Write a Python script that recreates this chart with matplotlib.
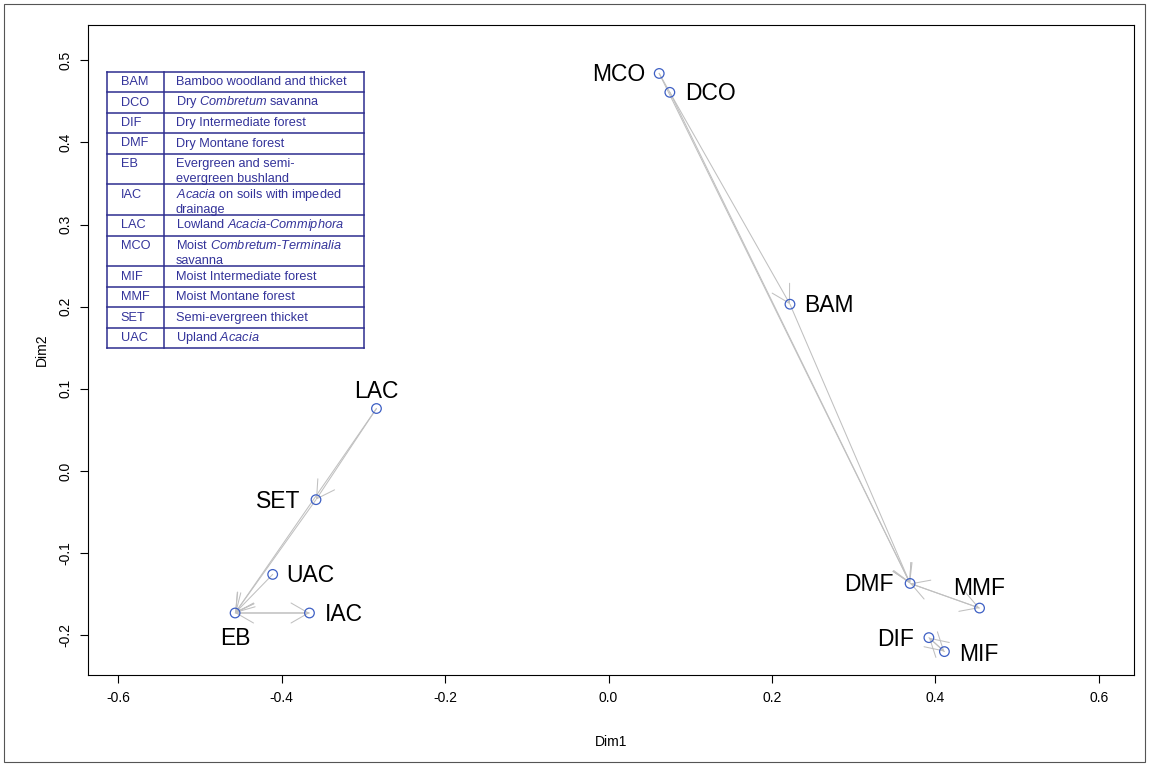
import matplotlib
matplotlib.use("Agg")
import matplotlib.pyplot as plt
from matplotlib.patches import Rectangle

plt.rcParams['font.family'] = ['Liberation Sans', 'DejaVu Sans']
plt.rcParams['mathtext.fontset'] = 'custom'
plt.rcParams['mathtext.rm'] = 'Liberation Sans'
plt.rcParams['mathtext.it'] = 'Liberation Sans:italic'
plt.rcParams['axes.unicode_minus'] = False

# ordination scores of the vegetation types
codes = ['BAM', 'DCO', 'DIF', 'DMF', 'EB', 'IAC', 'LAC', 'MCO', 'MIF', 'MMF', 'SET', 'UAC']
dim1 = [0.222, 0.075, 0.392, 0.369, -0.457, -0.366, -0.284, 0.062, 0.411, 0.454, -0.358, -0.411]
dim2 = [0.203, 0.461, -0.203, -0.137, -0.173, -0.173, 0.076, 0.484, -0.220, -0.167, -0.035, -0.126]

# nearest-neighbour arrows (from, to)
arrows = [('LAC', 'SET'), ('LAC', 'EB'), ('SET', 'EB'), ('UAC', 'EB'), ('IAC', 'EB'),
          ('EB', 'IAC'), ('DCO', 'BAM'), ('MCO', 'DMF'), ('DCO', 'DMF'), ('BAM', 'DMF'),
          ('MMF', 'DMF'), ('DMF', 'MMF'), ('DIF', 'MIF'), ('MIF', 'DIF')]
links = [('MCO', 'DCO')]

# legend table: description lines per code
descriptions = [
    ['Bamboo woodland and thicket'],
    [r'Dry $\mathit{Combretum}$ savanna'],
    ['Dry Intermediate forest'],
    ['Dry Montane forest'],
    ['Evergreen and semi-', 'evergreen bushland'],
    [r'$\mathit{Acacia}$ on soils with impeded', 'drainage'],
    [r'Lowland $\mathit{Acacia}$-$\mathit{Commiphora}$'],
    [r'Moist $\mathit{Combretum}$-$\mathit{Terminalia}$', 'savanna'],
    ['Moist Intermediate forest'],
    ['Moist Montane forest'],
    ['Semi-evergreen thicket'],
    [r'Upland $\mathit{Acacia}$'],
]

# label placement in pixels: dx, dy (baseline), ha
label_pos = {
    'MCO': (-14, -8, 'right'), 'DCO': (15, -8, 'left'), 'BAM': (14, -8, 'left'),
    'LAC': (0, 11, 'center'), 'SET': (-16, -8, 'right'), 'UAC': (14, -8, 'left'),
    'EB': (0, -32, 'center'), 'IAC': (15, -8, 'left'), 'DMF': (-16, -8, 'right'),
    'MMF': (0, 13, 'center'), 'DIF': (-15, -8, 'right'), 'MIF': (15, -9, 'left'),
}

W, H = 1149, 766
fig = plt.figure(figsize=(W / 100, H / 100), dpi=100)
ax = fig.add_axes([88 / W, 91 / H, 1046 / W, 650 / H])
ax.set_xlim(-0.637, 0.643)
ax.set_ylim(-0.2485, 0.543)

pos = {c: (x, y) for c, x, y in zip(codes, dim1, dim2)}
line_col = '#c0c0c0'

for a, b in links:
    ax.plot([pos[a][0], pos[b][0]], [pos[a][1], pos[b][1]], color=line_col, lw=0.75, zorder=1)

for a, b in arrows:
    ax.annotate('', xy=pos[b], xytext=pos[a],
                arrowprops=dict(arrowstyle='->,head_length=12.5,head_width=7.2',
                                mutation_scale=1, shrinkA=0, shrinkB=0,
                                color=line_col, lw=0.75), zorder=1)

ax.scatter(dim1, dim2, s=48, facecolors='none', edgecolors='#3d5fc4', linewidths=0.9, zorder=3)

for c in codes:
    dx, dy, ha = label_pos[c]
    ax.annotate(c, xy=pos[c], xytext=(dx * 0.72, dy * 0.72), textcoords='offset points',
                ha=ha, va='baseline', fontsize=16.5, color='black')

ticks = [-0.6, -0.4, -0.2, 0.0, 0.2, 0.4, 0.6]
ax.set_xticks(ticks)
ax.set_xticklabels(['%.1f' % t for t in ticks])
yticks = [-0.2, -0.1, 0.0, 0.1, 0.2, 0.3, 0.4, 0.5]
ax.set_yticks(yticks)
ax.set_yticklabels(['%.1f' % t for t in yticks], rotation=90, va='center')
ax.tick_params(direction='out', length=5.5, width=0.8, labelsize=10, pad=6)
for s in ax.spines.values():
    s.set_linewidth(0.8)

ax.set_xlabel('Dim1', fontsize=10)
ax.set_ylabel('Dim2', fontsize=10)
ax.xaxis.set_label_coords(0.5, -0.093)
ax.yaxis.set_label_coords(-0.037, 0.5)


# legend table drawn in figure pixels (origin top-left)
def fx(x):
    return x / W


def fy(y):
    return 1 - y / H


tab_col = '#2e2e8f'
txt_col = '#33339a'
x0, x1, x2 = 107.3, 164.3, 364.0
y = 71.7
rows_y = [y]
for lines in descriptions:
    y += 20.5 if len(lines) == 1 else 30.7
    rows_y.append(y)

for ry in rows_y:
    ax.plot([fx(x0), fx(x2)], [fy(ry), fy(ry)], color=tab_col, lw=1.1,
            transform=fig.transFigure, clip_on=False)
for cx in (x0, x1, x2):
    ax.plot([fx(cx), fx(cx)], [fy(rows_y[0]), fy(rows_y[-1])], color=tab_col, lw=1.1,
            transform=fig.transFigure, clip_on=False)

for c, lines, top in zip(codes, descriptions, rows_y[:-1]):
    ax.text(fx(120.5), fy(top + 13.3), c, fontsize=9.2, color=txt_col,
            va='baseline', transform=fig.transFigure)
    for i, ln in enumerate(lines):
        ax.text(fx(176), fy(top + 13.3 + 15 * i), ln, fontsize=9.2, color=txt_col,
                va='baseline', transform=fig.transFigure)

# outer frame round the whole figure
fig.add_artist(Rectangle((4 / W, 4 / H), 1141 / W, 758 / H, transform=fig.transFigure,
                         fill=False, lw=0.8, ec='#555555'))

fig.savefig('out.png', dpi=100)
